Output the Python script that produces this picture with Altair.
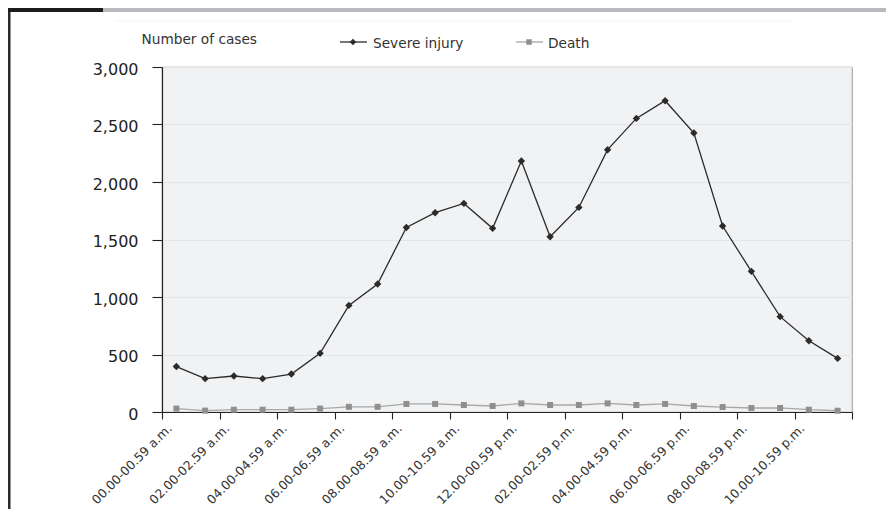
import json
import altair as alt
import pandas as pd

PERIODS = [
    "00.00-00.59 a.m.", "01.00-01.59 a.m.", "02.00-02.59 a.m.", "03.00-03.59 a.m.",
    "04.00-04.59 a.m.", "05.00-05.59 a.m.", "06.00-06.59 a.m.", "07.00-07.59 a.m.",
    "08.00-08.59 a.m.", "09.00-09.59 a.m.", "10.00-10.59 a.m.", "11.00-11.59 a.m.",
    "12.00-00.59 p.m.", "01.00-01.59 p.m.", "02.00-02.59 p.m.", "03.00-03.59 p.m.",
    "04.00-04.59 p.m.", "05.00-05.59 p.m.", "06.00-06.59 p.m.", "07.00-07.59 p.m.",
    "08.00-08.59 p.m.", "09.00-09.59 p.m.", "10.00-10.59 p.m.", "11.00-11.59 p.m.",
]
SEVERE = [395, 290, 313, 290, 330, 510, 927, 1113, 1605, 1733, 1814, 1597,
          2183, 1524, 1779, 2281, 2553, 2707, 2426, 1617, 1223, 829, 620, 466]
DEATH = [30, 12, 20, 20, 20, 30, 45, 45, 70, 70, 61, 52,
         75, 61, 61, 75, 61, 70, 52, 43, 35, 35, 20, 11]
SERIES = ["Severe injury", "Death"]
Y_TICKS = [0, 500, 1000, 1500, 2000, 2500, 3000]

FONT = "DejaVu Sans"
SEV_COLOR = "#2b2b2b"
DEATH_LINE = "#a8a8a8"
DEATH_MARK = "#8f8f8f"

df = pd.DataFrame({
    "period": PERIODS * 2,
    "pos": [i + 0.5 for i in range(len(PERIODS))] * 2,
    "cases": SEVERE + DEATH,
    "series": [SERIES[0]] * len(SEVERE) + [SERIES[1]] * len(DEATH),
})
one = pd.DataFrame({"k": [0]})
sev_name = pd.DataFrame({"series": [SERIES[0]]})
dth_name = pd.DataFrame({"series": [SERIES[1]]})

W, H = 690, 345
n = len(PERIODS)
half = W / n / 2

label_expr = (
    "datum.value % 2 == 0 && datum.value < " + str(n) + " ? "
    + json.dumps(PERIODS) + "[datum.value] : ''"
)

x_enc = alt.X(
    "pos:Q",
    scale=alt.Scale(domain=[0, n], nice=False, zero=False),
    axis=alt.Axis(
        values=list(range(n + 1)), labelExpr=label_expr, title=None,
        labelAngle=-45, labelAlign="right", labelBaseline="middle",
        labelOffset=half - 7, labelPadding=7, tickSize=7, tickColor="#222",
        domainColor="#222", domainWidth=1.2, tickWidth=1.1, grid=False,
        labelFont=FONT, labelFontSize=12.4, labelColor="#333", labelOverlap=False,
        labelBound=False, labelFlush=False,
    ),
)
y_enc = alt.Y(
    "cases:Q",
    scale=alt.Scale(domain=[0, 3000], nice=False),
    axis=alt.Axis(
        values=Y_TICKS, format=",.0f", title="Number of cases", titleAngle=0,
        titleAlign="left", titleBaseline="alphabetic", titleX=-21, titleY=-24,
        titleFont=FONT, titleFontSize=13.7, titleFontWeight="normal", titleColor="#333",
        labelFont=FONT, labelFontSize=16, labelColor="#222", labelPadding=14,
        labelOffset=2, tickSize=10, tickColor="#222", tickWidth=1.1,
        domainColor="#222", domainWidth=1.2, gridColor="#e4e5e8", gridWidth=1,
    ),
)

base = alt.Chart(df)

sev = base.transform_filter(alt.datum.series == SERIES[0])
dth = base.transform_filter(alt.datum.series == SERIES[1])

death_line = dth.mark_line(color=DEATH_LINE, strokeWidth=1.3).encode(x=x_enc, y=y_enc)
death_pts = dth.mark_point(shape="square", filled=True, size=36, color=DEATH_MARK,
                           opacity=1).encode(x="pos:Q", y="cases:Q")
sev_line = sev.mark_line(color=SEV_COLOR, strokeWidth=1.3).encode(x="pos:Q", y="cases:Q")
sev_pts = sev.mark_point(shape="diamond", filled=True, size=55, color=SEV_COLOR,
                         opacity=1).encode(x="pos:Q", y="cases:Q")

# custom legend
leg_sev_line = alt.Chart(one).mark_rule(color=SEV_COLOR, strokeWidth=1.3).encode(
    x=alt.value(178), x2=alt.value(205), y=alt.value(-25))
leg_sev_pt = alt.Chart(one).mark_point(shape="diamond", filled=True, size=40,
                                       color=SEV_COLOR, opacity=1).encode(
    x=alt.value(191), y=alt.value(-25))
leg_sev_txt = alt.Chart(sev_name).mark_text(align="left", baseline="alphabetic", font=FONT,
                                            fontSize=13.7, color="#333").encode(
    x=alt.value(211), y=alt.value(-19.5), text="series:N")
leg_dth_line = alt.Chart(one).mark_rule(color=DEATH_LINE, strokeWidth=1.3).encode(
    x=alt.value(354), x2=alt.value(381), y=alt.value(-25))
leg_dth_pt = alt.Chart(one).mark_point(shape="square", filled=True, size=30,
                                       color=DEATH_MARK, opacity=1).encode(
    x=alt.value(367), y=alt.value(-25))
leg_dth_txt = alt.Chart(dth_name).mark_text(align="left", baseline="alphabetic", font=FONT,
                                            fontSize=13.7, color="#333").encode(
    x=alt.value(386), y=alt.value(-19.5), text="series:N")

# page frame decorations
header_bar = alt.Chart(one).mark_rect(color="#b9babd").encode(
    x=alt.value(-154), x2=alt.value(724), y=alt.value(-59), y2=alt.value(-55))
header_box = alt.Chart(one).mark_rect(color="#1c1c1c").encode(
    x=alt.value(-154), x2=alt.value(-59), y=alt.value(-59), y2=alt.value(-55))
left_line = alt.Chart(one).mark_rect(color="#2a2a2a").encode(
    x=alt.value(-154), x2=alt.value(-151.5), y=alt.value(-55), y2=alt.value(442))
faint_line = alt.Chart(one).mark_rule(color="#f4f4f4", strokeWidth=1).encode(
    x=alt.value(-47), x2=alt.value(631), y=alt.value(-46))

chart = alt.layer(
    death_line, death_pts, sev_line, sev_pts,
    leg_sev_line, leg_sev_pt, leg_sev_txt, leg_dth_line, leg_dth_pt, leg_dth_txt,
    header_bar, header_box, left_line, faint_line,
).properties(
    width=W, height=H,
    autosize=alt.AutoSizeParams(type="none"),
    padding={"left": 154, "top": 59, "right": 34, "bottom": 97},
    background="white",
).configure_view(
    fill="#f1f2f4", stroke="#a9a9ab", strokeWidth=1.2,
)

chart.save("out.html", embed_options={"renderer": "svg", "actions": False})
